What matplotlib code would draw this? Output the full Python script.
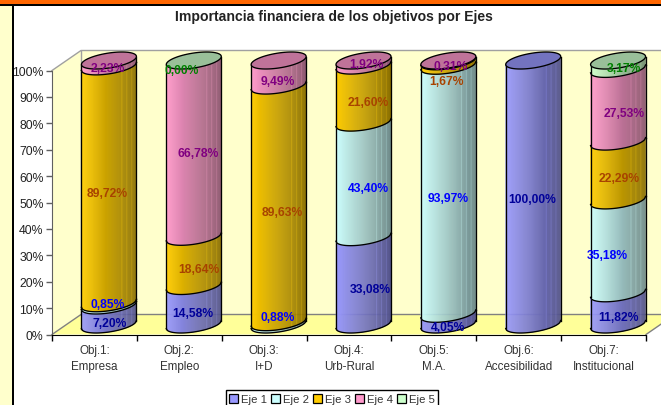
#!/usr/bin/env python3
import numpy as np
import matplotlib
matplotlib.use("Agg")
import matplotlib.pyplot as plt
from matplotlib.patches import Patch, Polygon, Rectangle
from matplotlib.collections import PolyCollection

plt.rcParams["font.family"] = ["Liberation Sans", "DejaVu Sans"]

# ============================================================
# DATA
# ============================================================
CATEGORIES = ["Obj.1:\nEmpresa", "Obj.2:\nEmpleo", "Obj.3:\nI+D", "Obj.4:\nUrb-Rural",
              "Obj.5:\nM.A.", "Obj.6:\nAccesibilidad", "Obj.7:\nInstitucional"]
SERIES = ["Eje 1", "Eje 2", "Eje 3", "Eje 4", "Eje 5"]

EJE_1 = [7.20, 14.58, 0, 33.08, 4.05, 100.00, 11.82]
EJE_2 = [0.85, 0, 0.88, 43.40, 93.97, 0, 35.18]
EJE_3 = [89.72, 18.64, 89.63, 21.60, 1.67, 0, 22.29]
EJE_4 = [2.23, 66.78, 9.49, 1.92, 0.31, 0, 27.53]
EJE_5 = [0, 0.00, 0, 0, 0, 0, 3.17]

# which labels show although the value is zero
SHOW_ZERO = {(4, 1)}

# ============================================================
# STYLE
# ============================================================
W, H = 661, 406
COLORS = ["#9999FF", "#CCFFFF", "#FFCC00", "#FF99CC", "#CCFFCC"]
LABEL_COLORS = ["#000099", "#0000FF", "#A84300", "#800080", "#008000"]

# label nudges in pixels, (right, down), per series then per category
NUDGE = {
    (0, 0): (1, 8.5), (1, 0): (-1, 0), (2, 0): (-1.5, 8), (3, 0): (-1, 5),
    (0, 1): (-1, 8), (2, 1): (5, 8), (3, 1): (4, 4), (4, 1): (-12, 9),
    (1, 2): (-1, -6), (2, 2): (4, 8), (3, 2): (-1, 7.5),
    (0, 3): (7, 8), (1, 3): (5, 8), (2, 3): (5, 8), (3, 3): (3, 1),
    (0, 4): (0, 8), (1, 4): (0, 8), (2, 4): (-2, 17), (3, 4): (2, 5),
    (0, 5): (-1, 7),
    (0, 6): (0, 8), (1, 6): (-11, 8), (2, 6): (1, 7), (3, 6): (6, 8), (4, 6): (6, 3),
}

AX_L, AX_R, AX_T, AX_B = 52, 646, 71.5, 335.5
PX_X = (AX_R - AX_L) / 7
PX_Y = (AX_B - AX_T) / 100
DX, DY = 29 / PX_X, 20 / PX_Y          # depth of the 3d box, data units
HALF_W = 27.5 / PX_X                   # cylinder radius
ELL_B = 7.5 / PX_Y                     # ellipse half height
ELL_S = 4.0 / 27.5 * (PX_X / PX_Y)     # ellipse tilt


def shade(color, f):
    return tuple(c * f for c in matplotlib.colors.to_rgb(color))


def front_edge(xs, cx, level):
    u = np.clip((xs - cx) / HALF_W, -1, 1)
    return level + ELL_S * (xs - cx) - ELL_B * np.sqrt(1 - u ** 2)


def draw_segment(ax, cx, v0, v1, color, z):
    edges = np.linspace(cx - HALF_W, cx + HALF_W, 57)
    polys, cols = [], []
    for k in range(len(edges) - 1):
        xa, xb = edges[k], edges[k + 1]
        polys.append([(xa, front_edge(xa, cx, v0)), (xb, front_edge(xb, cx, v0)),
                      (xb, front_edge(xb, cx, v1)), (xa, front_edge(xa, cx, v1))])
        t = k / (len(edges) - 2)
        f = 1 - 0.45 * t
        # pale vertical streaks near the right side of the cylinder
        if k in (41, 46, 51):
            f = min(1, f + 0.1)
        cols.append(shade(color, f))
    ax.add_collection(PolyCollection(polys, facecolors=cols, edgecolors=cols, linewidths=0.3,
                                     zorder=z, clip_on=False))
    ax.plot(edges, front_edge(edges, cx, v0), color="black", lw=0.95, zorder=z + 0.1, clip_on=False)
    for xe in (edges[0], edges[-1]):
        ax.plot([xe, xe], [front_edge(xe, cx, v0), front_edge(xe, cx, v1)],
                color="black", lw=0.95, zorder=z + 0.1, clip_on=False)


def draw_cap(ax, cx, level, color, z):
    t = np.linspace(0, 2 * np.pi, 90)
    xs = cx + HALF_W * np.cos(t)
    ys = level + ELL_S * (xs - cx) + ELL_B * np.sin(t)
    ax.add_patch(Polygon(np.column_stack([xs, ys]), closed=True, facecolor=shade(color, 0.75),
                         edgecolor="black", lw=0.95, zorder=z, clip_on=False))


# ============================================================
# FIGURE
# ============================================================
fig = plt.figure(figsize=(W / 100, H / 100), dpi=100, facecolor="white")


def fig_rect(x0, y0, x1, y1, color):
    fig.add_artist(Rectangle((x0 / W, 1 - y1 / H), (x1 - x0) / W, (y1 - y0) / H,
                             transform=fig.transFigure, facecolor=color, edgecolor="none"))


fig_rect(0, 0, 13, H, "#FFFFCC")
fig_rect(12, 5, 14, H, "black")
fig_rect(0, 0, W, 5, "#FF6600")
fig_rect(0, 5, W, 7, "black")

ax = fig.add_axes([AX_L / W, 1 - AX_B / H, (AX_R - AX_L) / W, (AX_B - AX_T) / H])
ax.patch.set_alpha(0)
ax.set_xlim(0, 7)
ax.set_ylim(0, 100)

# box: back wall, left wall, floor
GRID = "#A0A0A0"
ax.add_patch(Polygon([(DX, DY), (8, DY), (8, 100 + DY), (DX, 100 + DY)], facecolor="#FFFFCC",
                     edgecolor="none", zorder=1, clip_on=False))
ax.add_patch(Polygon([(0, 0), (DX, DY), (DX, 100 + DY), (0, 100)], facecolor="#FFFFCC",
                     edgecolor="none", zorder=1, clip_on=False))
ax.add_patch(Polygon([(0, 0), (7, 0), (7 + DX, DY), (DX, DY)], facecolor="#FFFF99",
                     edgecolor="none", zorder=1.1, clip_on=False))
ax.plot([0, DX, DX, 8], [100, 100 + DY, 100 + DY, 100 + DY], color=GRID, lw=1, zorder=1.2, clip_on=False)
ax.plot([DX, DX], [DY, 100 + DY], color=GRID, lw=1, zorder=1.2, clip_on=False)
ax.plot([0, DX, 8], [0, DY, DY], color="#808080", lw=1, zorder=1.2, clip_on=False)
ax.plot([7, 7 + DX], [0, DY], color="#808080", lw=1, zorder=1.2, clip_on=False)

# cylinders
values = np.array([EJE_1, EJE_2, EJE_3, EJE_4, EJE_5], dtype=float)
for c in range(len(CATEGORIES)):
    cx = c + 0.5 + DX / 2
    base = 0.0
    top_color = COLORS[0]
    for s in range(len(SERIES)):
        v = values[s, c]
        if v > 0:
            draw_segment(ax, cx, base + DY / 2, base + v + DY / 2, COLORS[s], 2 + s * 0.5)
            top_color = COLORS[s]
        base += v
    if (4, c) in SHOW_ZERO:
        top_color = COLORS[4]
    draw_cap(ax, cx, base + DY / 2, top_color, 5)

    base = 0.0
    for s in range(len(SERIES)):
        v = values[s, c]
        if v > 0 or (s, c) in SHOW_ZERO:
            nx, ny = NUDGE.get((s, c), (0, 0))
            ax.annotate(f"{v:.2f}%".replace(".", ","), (cx, base + v / 2 + DY / 2),
                        xytext=(nx * 0.72, -ny * 0.72), textcoords="offset points",
                        ha="center", va="center", fontsize=8.7, fontweight="bold",
                        color=LABEL_COLORS[s], zorder=8, annotation_clip=False)
        base += v

# axes
for side in ("top", "right"):
    ax.spines[side].set_visible(False)
ax.spines["left"].set_color("#606060")
ax.spines["left"].set_zorder(6)
ax.spines["bottom"].set_color("black")
ax.spines["bottom"].set_zorder(6)
ax.set_yticks(np.arange(0, 101, 10))
ax.set_yticklabels([f"{v}%" for v in range(0, 101, 10)], fontsize=8.8, color="#222222")
ax.tick_params(axis="y", length=4, width=1, color="#606060", pad=2)
ax.set_xticks(np.arange(8))
ax.set_xticklabels([])
ax.tick_params(axis="x", length=4, width=1, color="black")
ax.set_xticks(np.arange(7) + 0.5, minor=True)
ax.set_xticklabels(CATEGORIES, minor=True, fontsize=8.4, color="#333333", linespacing=1.4)
ax.tick_params(axis="x", which="minor", length=0, pad=7)

fig.text(333.5 / W, 1 - 17 / H, "Importancia financiera de los objetivos por Ejes",
         ha="center", va="center", fontsize=10.1, fontweight="bold", color="#222222")

handles = [Patch(facecolor=col, edgecolor="black", lw=0.9, label=s) for col, s in zip(COLORS, SERIES)]
fig.legend(handles=handles, loc="center", bbox_to_anchor=(332 / W, 1 - 400 / H), ncol=5, frameon=True,
           fancybox=False, edgecolor="black", framealpha=1, fontsize=8.2, handlelength=0.75,
           handleheight=0.8, handletextpad=0.3, columnspacing=0.35, borderpad=0.3, labelcolor="#333333")

fig.savefig("out.png", dpi=100)
